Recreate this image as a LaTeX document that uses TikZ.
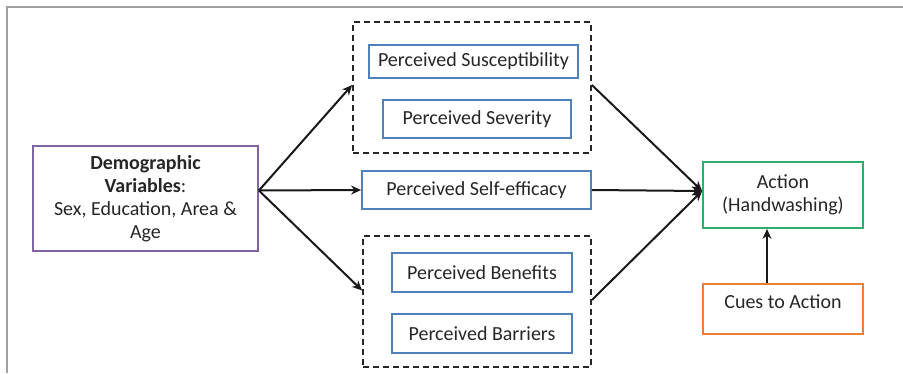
\documentclass[tikz,border=0pt]{standalone}
\usepackage{fontspec}
\setmainfont{Carlito}
\usetikzlibrary{arrows.meta}
\definecolor{cpurple}{HTML}{8064A2}
\definecolor{cblue}{HTML}{4F81BD}
\definecolor{cgreen}{HTML}{2EAD6B}
\definecolor{corange}{HTML}{ED7D31}
\definecolor{cframe}{HTML}{A0A0A0}
\begin{document}
\begin{tikzpicture}[x=1pt,y=-1pt,
  every node/.style={font=\fontsize{20}{23}\selectfont, text=black!85, inner sep=0pt, align=center},
  box/.style={draw, line width=1.8pt, rectangle},
  bluebox/.style={box, draw=cblue},
  dashbox/.style={draw=black!85, line width=1.8pt, dash pattern=on 6pt off 4pt, rectangle},
  arr/.style={line width=2pt, black!90, -{Stealth[length=10pt,width=9pt]}}
]
\useasboundingbox (0,0) rectangle (903,373);
\draw[cframe, line width=2.2pt] (903,7) -- (7,7) -- (7,373);

\node[box, draw=cpurple, minimum width=225pt, minimum height=105pt] (demo) at (145.5,198.5)
  {\textbf{Demographic}\\\textbf{Variables}:\\Sex, Education, Area \&\\Age};

\node[dashbox, minimum width=238pt, minimum height=131pt] (topdash) at (472,87.5) {};
\node[bluebox, minimum width=209pt, minimum height=33pt] (susc) at (473.5,61.5) {Perceived Susceptibility};
\node[bluebox, minimum width=188pt, minimum height=38pt] (sev) at (477,119) {Perceived Severity};

\node[bluebox, minimum width=229pt, minimum height=38pt] (self) at (476.5,190) {Perceived Self-efficacy};

\node[dashbox, minimum width=228pt, minimum height=131pt] (botdash) at (477,301.5) {};
\node[bluebox, minimum width=180pt, minimum height=39pt] (ben) at (482,272.5) {Perceived Benefits};
\node[bluebox, minimum width=180pt, minimum height=39pt] (bar) at (482,333.5) {Perceived Barriers};

\node[box, draw=cgreen, minimum width=160pt, minimum height=66pt] (action) at (783,195) {Action\\(Handwashing)};
\node[box, draw=corange, minimum width=160pt, minimum height=50pt, text depth=14pt] (cues) at (783,309) {Cues to Action};

\coordinate (apex) at ([yshift=8pt]demo.east);
\coordinate (conv) at ([yshift=4pt]action.west);

\draw[arr] (apex) -- ([yshift=2.5pt]topdash.west);
\draw[arr] (apex) -- (self.west);
\draw[arr] (apex) -- ([yshift=11pt]botdash.west);
\draw[arr] ([yshift=2.5pt]topdash.east) -- (conv);
\draw[arr] (self.east) -- (conv);
\draw[arr] ([yshift=1.5pt]botdash.east) -- (conv);
\draw[arr] ([xshift=-16pt]cues.north) -- ([xshift=-16pt]action.south);
\end{tikzpicture}
\end{document}
